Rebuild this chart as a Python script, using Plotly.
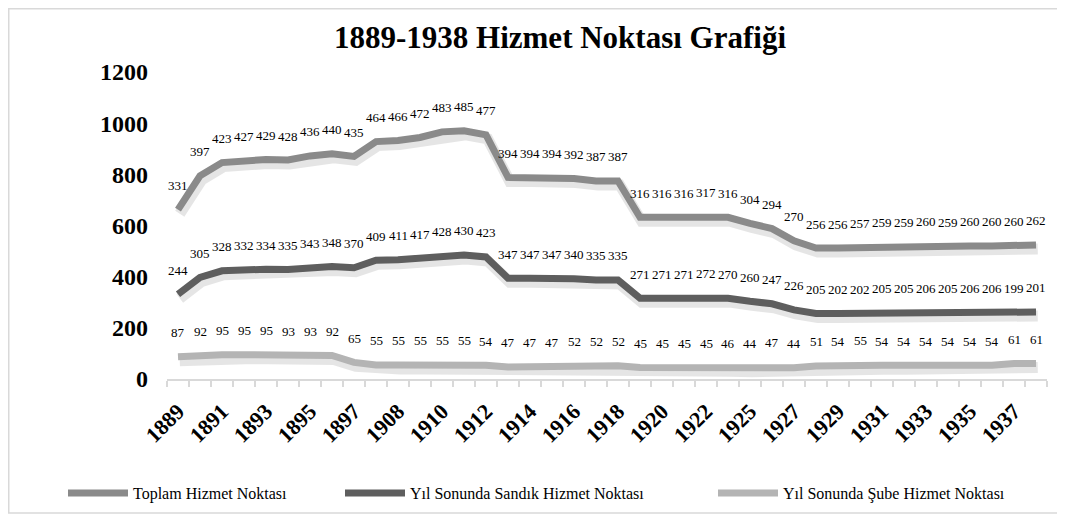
import numpy as np
import plotly.graph_objects as go

years = [1889, 1890, 1891, 1892, 1893, 1894, 1895, 1896, 1897,
         1907, 1908, 1909, 1910, 1911, 1912, 1913, 1914, 1915, 1916, 1917,
         1918, 1919, 1920, 1921, 1922, 1923,
         1925, 1926, 1927, 1928, 1929, 1930, 1931, 1932, 1933, 1934, 1935, 1936, 1937, 1938]

toplam = [331, 397, 423, 427, 429, 428, 436, 440, 435, 464, 466, 472, 483, 485, 477,
          394, 394, 394, 392, 387, 387, 316, 316, 316, 317, 316, 304, 294, 270,
          256, 256, 257, 259, 259, 260, 259, 260, 260, 260, 262]
sandik = [244, 305, 328, 332, 334, 335, 343, 348, 370, 409, 411, 417, 428, 430, 423,
          347, 347, 347, 340, 335, 335, 271, 271, 271, 272, 270, 260, 247, 226,
          205, 202, 202, 205, 205, 206, 205, 206, 206, 199, 201]
sube = [87, 92, 95, 95, 95, 93, 93, 92, 65, 55, 55, 55, 55, 55, 54,
        47, 47, 47, 52, 52, 52, 45, 45, 45, 45, 46, 44, 47, 44,
        51, 54, 55, 54, 54, 54, 54, 54, 54, 61, 61]

names = ["Yıl Sonunda Şube Hizmet Noktası", "Yıl Sonunda Sandık Hizmet Noktası", "Toplam Hizmet Noktası"]
series = [sube, sandik, toplam]
colors = ["#b4b4b4", "#5e5e5e", "#8a8a8a"]
legend_ids = ["legend3", "legend2", "legend"]

FONT = "Liberation Serif, Times New Roman, serif"
idx = list(range(len(years)))
tick_idx = idx[::2]
tick_txt = [str(years[i]) for i in tick_idx]

# stacked line chart (as in the original Excel chart)
stacked = np.cumsum(np.array(series), axis=0)

# the page body adds an 8px offset; layout numbers below are in figure pixels
W, H = 1057, 507
PL, PR, PT, PB = 159, 1039, 64, 371  # plot area edges in figure pixels
Y_MAX = 1200
UNITS_PER_PX = Y_MAX / float(PB - PT)

fig = go.Figure()
# soft drop shadow under each line (Excel style)
for ys in stacked:
    fig.add_trace(go.Scatter(
        x=[i + 0.08 for i in idx], y=(ys - 4 * UNITS_PER_PX).tolist(), mode="lines",
        line=dict(color="rgba(0,0,0,0.10)", width=11), showlegend=False, hoverinfo="skip"))

annotations = []
for name, vals, ys, col, lg in zip(names, series, stacked, colors, legend_ids):
    fig.add_trace(go.Scatter(
        x=idx, y=ys.tolist(), mode="lines", name=name,
        line=dict(color=col, width=7, shape="linear"),
        legend=lg, showlegend=True, hoverinfo="skip"))
    for xi, yi, v in zip(idx, ys, vals):
        annotations.append(dict(x=xi, y=float(yi), text=str(v), showarrow=False,
                                yshift=24, font=dict(family=FONT, size=13, color="#000000")))

def px_x(px):
    return (px - PL) / float(PR - PL)

def px_y(py):
    return (PB - py) / float(PB - PT)

legend_common = dict(xanchor="left", yanchor="middle", orientation="h", itemwidth=60,
                     font=dict(family=FONT, size=16, color="#000000"), bgcolor="rgba(0,0,0,0)")

fig.update_layout(
    width=W, height=H,
    margin=dict(l=PL, r=W - PR, t=PT, b=H - PB, autoexpand=False),
    paper_bgcolor="#ffffff", plot_bgcolor="#ffffff",
    font=dict(family=FONT, color="#000000"),
    title=dict(text="<b>1889-1938 Hizmet Noktası Grafiği</b>", x=552 / W, xanchor="center",
               y=1 - 29 / H, yanchor="middle", xref="container", yref="container",
               font=dict(family=FONT, size=31, color="#000000")),
    xaxis=dict(range=[-0.5, len(years) - 0.5], tickmode="array", tickvals=tick_idx, ticktext=tick_txt,
               tickangle=-45, ticks="", showgrid=False, zeroline=False, ticklabelstandoff=9,
               showline=True, linecolor="#d9d9d9", linewidth=1.5,
               tickfont=dict(family=FONT, size=22, color="#000000", weight="bold"),
               minor=dict(tickmode="linear", tick0=-0.5, dtick=1, ticks="outside", ticklen=6,
                          tickcolor="#d9d9d9", tickwidth=1.5, showgrid=False)),
    yaxis=dict(range=[0, Y_MAX], tickmode="linear", tick0=0, dtick=200, showgrid=False,
               zeroline=False, showline=False, ticks="", ticklabelstandoff=18,
               tickfont=dict(family=FONT, size=24, color="#000000", weight="bold")),
    annotations=annotations,
    shapes=[dict(type="rect", xref="paper", yref="paper",
                 x0=px_x(0.75), x1=px_x(1070), y0=px_y(505), y1=px_y(0.75),
                 line=dict(color="#d9d9d9", width=1.5), fillcolor="rgba(0,0,0,0)", layer="below")],
    legend=dict(x=px_x(55), y=px_y(485), **legend_common),
    legend2=dict(x=px_x(332), y=px_y(485), **legend_common),
    legend3=dict(x=px_x(705), y=px_y(485), **legend_common),
)

fig.write_html("out.html")
